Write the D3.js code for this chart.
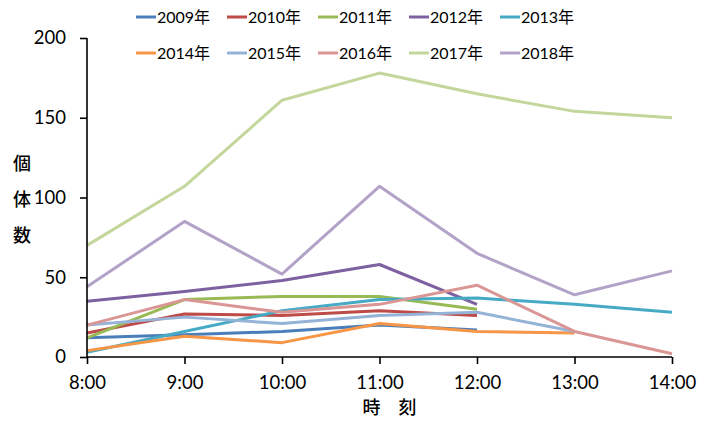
<!DOCTYPE html>
<html>
<head>
<meta charset="utf-8">
<script src="https://cdn.jsdelivr.net/npm/d3@7"></script>
<style>
  body { margin: 0; background: #fff; }
  svg { display: block; font-family: Lato, "Noto Sans CJK JP", sans-serif; }
</style>
</head>
<body>
<svg id="chart" width="706" height="421"></svg>
<script>
// Hourly times on the x axis
const times = ["8:00", "9:00", "10:00", "11:00", "12:00", "13:00", "14:00"];
const yTicks = [0, 50, 100, 150, 200];

// Counts per year (null = not surveyed at that hour)
const years = ["2009年", "2010年", "2011年", "2012年", "2013年", "2014年", "2015年", "2016年", "2017年", "2018年"];
const v2009 = [12, 14, 16, 20, 17, null, null];
const v2010 = [15, 27, 26, 29, 26, null, null];
const v2011 = [12, 36, 38, 38, 30, null, null];
const v2012 = [35, 41, 48, 58, 33, null, null];
const v2013 = [3, 16, 29, 36, 37, 33, 28];
const v2014 = [4, 13, 9, 21, 16, 15, null];
const v2015 = [20, 25, 21, 26, 28, 16, null];
const v2016 = [20, 36, 28, 33, 45, 16, 2];
const v2017 = [70, 107, 161, 178, 165, 154, 150];
const v2018 = [44, 85, 52, 107, 65, 39, 54];
const seriesValues = [v2009, v2010, v2011, v2012, v2013, v2014, v2015, v2016, v2017, v2018];
const colors = ["#4A7EBB", "#BE4B48", "#98B954", "#7D60A0", "#46AAC5",
                "#F79646", "#95B3D7", "#D99694", "#C3D69B", "#B3A2C7"];

const svg = d3.select("#chart");
const plotL = 87, plotR = 672, plotT = 38, plotB = 357;

const x = d3.scalePoint().domain(times).range([plotL, plotR]);
const y = d3.scaleLinear().domain([0, 200]).range([plotB, plotT]);

// Series lines
const line = d3.line()
  .defined(d => d.v !== null)
  .x(d => x(d.t))
  .y(d => y(d.v));

svg.append("g")
  .selectAll("path")
  .data(seriesValues.map((vals, i) => ({ i, pts: vals.map((v, k) => ({ t: times[k], v })) })))
  .join("path")
  .attr("fill", "none")
  .attr("stroke", d => colors[d.i])
  .attr("stroke-width", 3)
  .attr("stroke-linejoin", "round")
  .attr("d", d => line(d.pts));

// Axes
const yAxis = svg.append("g")
  .attr("transform", `translate(${plotL},0)`)
  .call(d3.axisLeft(y).tickValues(yTicks).tickSize(7).tickPadding(14));
const xAxis = svg.append("g")
  .attr("transform", `translate(0,${plotB})`)
  .call(d3.axisBottom(x).tickSize(7).tickPadding(12));

[yAxis, xAxis].forEach(g => {
  g.select(".domain").attr("stroke", "#000").attr("stroke-width", 1.6);
  g.selectAll(".tick line").attr("stroke", "#000").attr("stroke-width", 1.6);
  g.selectAll("text").attr("font-size", 18.5).attr("fill", "#000")
    .attr("font-family", "Lato, 'Noto Sans CJK JP', sans-serif");
});
// plain axis lines without end caps
yAxis.select(".domain").attr("d", `M0,${plotB}V${plotT}`);
xAxis.select(".domain").attr("d", `M${plotL},0H${plotR}`);

// Axis titles
svg.append("text")
  .attr("x", (plotL + plotR) / 2 + 10)
  .attr("y", 414)
  .attr("text-anchor", "middle")
  .attr("font-size", 18)
  .attr("font-family", "'Noto Sans CJK JP', sans-serif")
  .attr("font-weight", 500)
  .text("時　刻");

const yTitle = ["個", "体", "数"];
svg.append("g").selectAll("text")
  .data(yTitle)
  .join("text")
  .attr("x", 22)
  .attr("y", (d, i) => 170 + i * 36)
  .attr("text-anchor", "middle")
  .attr("font-size", 18)
  .attr("font-family", "'Noto Sans CJK JP', sans-serif")
  .attr("font-weight", 500)
  .text(d => d);

// Legend: two rows of five
const legend = svg.append("g").selectAll("g")
  .data(years)
  .join("g")
  .attr("transform", (d, i) => `translate(${136 + (i % 5) * 91},${i < 5 ? 17 : 53})`);
legend.append("line")
  .attr("x1", 0).attr("x2", 20)
  .attr("stroke", (d, i) => colors[i])
  .attr("stroke-width", 3);
legend.append("text")
  .attr("x", 21)
  .attr("dy", "0.36em")
  .attr("font-size", 16)
  .attr("fill", "#000")
  .text(d => d);
</script>
</body>
</html>
